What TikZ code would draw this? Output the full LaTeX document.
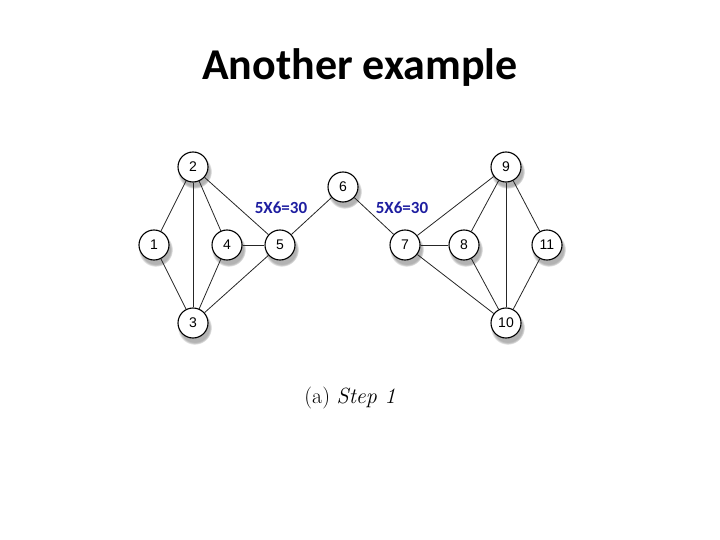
\documentclass[tikz,border=0pt]{standalone}
\usepackage{fontspec}
\setmainfont{Latin Modern Roman}
\newfontfamily\titlefont{Carlito}
\newfontfamily\numfont{Liberation Sans}
\usetikzlibrary{shadows}
\definecolor{lblblue}{RGB}{30,30,160}
\tikzset{
  vtx/.style={circle, draw=black, line width=1.1pt, fill=white, minimum size=30pt, inner sep=0pt,
    font=\numfont\fontsize{14}{14}\selectfont,
    circular drop shadow={shadow xshift=1.5pt, shadow yshift=-4pt, shadow scale=1.15, opacity=0.6}},
  edge/.style={draw=black!85, line width=0.8pt},
  lbl/.style={text=lblblue, font=\titlefont\bfseries\fontsize{17}{17}\selectfont}
}
\begin{document}
\begin{tikzpicture}[x=1pt,y=-1pt]
\useasboundingbox (0,0) rectangle (720,540);
\node[font=\titlefont\bfseries\fontsize{44}{44}\selectfont] (title) at (360,68) {Another example};
\node[vtx] (n2) at (193,167) {2};
\node[vtx] (n1) at (154,245) {1};
\node[vtx] (n4) at (227,245) {4};
\node[vtx] (n5) at (280,245) {5};
\node[vtx] (n3) at (193,323) {3};
\node[vtx] (n6) at (343,187) {6};
\node[vtx] (n7) at (405,245) {7};
\node[vtx] (n8) at (464,245) {8};
\node[vtx] (n9) at (506,167) {9};
\node[vtx] (n11) at (547,245) {11};
\node[vtx] (n10) at (506,323) {10};
\foreach \a/\b in {n2/n1,n2/n3,n2/n4,n2/n5,n1/n3,n4/n3,n4/n5,n5/n3,n5/n6,n6/n7,n7/n8,n7/n9,n7/n10,n8/n9,n8/n10,n9/n10,n9/n11,n11/n10}
  \draw[edge] (\a) -- (\b);
\node[lbl] (l1) at (281,208) {5X6=30};
\node[lbl] (l2) at (402,208) {5X6=30};
\node[font=\fontsize{22}{22}\selectfont] (cap) at (350,398) {(a)\ \textit{Step 1}};
\end{tikzpicture}
\end{document}
